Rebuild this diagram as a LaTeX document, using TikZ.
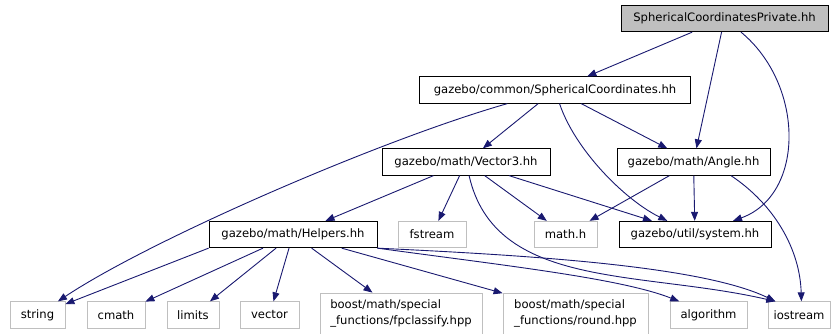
\documentclass[tikz,border=0pt]{standalone}
\usepackage{fontspec}
\setmainfont{DejaVu Sans}
\usetikzlibrary{arrows.meta}
\definecolor{edgeblue}{HTML}{191970}
\definecolor{boxgray}{HTML}{BFBFBF}

\begin{document}
\begin{tikzpicture}[x=1pt, y=-1pt,
		font=\fontsize{11.6}{16}\selectfont,
		file/.style={draw=black, line width=0.8pt, minimum height=26.5pt, inner sep=0pt, align=left},
		sysfile/.style={file, draw=boxgray},
		dep/.style={draw=edgeblue, line width=0.9pt, -{Triangle[length=9pt,width=7pt]}}]
		\useasboundingbox (0,0) rectangle (835,334);
		
		% project headers
		\node[file, fill=boxgray, minimum width=207pt] (priv) at (724.5,18.5) {SphericalCoordinatesPrivate.hh};
		\node[file, minimum width=271pt] (sph) at (555,90) {gazebo/common/SphericalCoordinates.hh};
		\node[file, minimum width=168pt] (vecthree) at (466,162) {gazebo/math/Vector3.hh};
		\node[file, minimum width=153pt] (angle) at (693.5,162) {gazebo/math/Angle.hh};
		\node[file, minimum width=168pt] (helpers) at (293,234.5) {gazebo/math/Helpers.hh};
		\node[file, minimum width=152pt] (system) at (695,234.5) {gazebo/util/system.hh};
		
		% system headers
		\node[sysfile, minimum width=68pt] (fstream) at (432,234.5) {fstream};
		\node[sysfile, minimum width=63pt] (mathh) at (565.5,234.5) {math.h};
		\foreach \n/\x/\w in {string/37.5/55, cmath/116/58, limits/193/52, vector/269.5/59, algorithm/708.5/77, iostream/799/62}{
			\node[sysfile, minimum width=\w pt] (\n) at (\x,315) {\n};
		}
		\node[sysfile, minimum width=162pt, minimum height=41pt] (fpclass) at (401,313.5) {boost/math/special\\\_functions/fpclassify.hpp};
		\node[sysfile, minimum width=145pt, minimum height=41pt] (round) at (575.5,313.5) {boost/math/special\\\_functions/round.hpp};
		
		\foreach \a/\b in {priv/sph, priv/angle, sph/vecthree, sph/angle, vecthree/helpers, vecthree/fstream, vecthree/mathh, vecthree/system, angle/mathh, angle/system, helpers/cmath, helpers/limits, helpers/vector, helpers/fpclass, helpers/round}{
			\draw[dep] (\a) -- (\b);
		}
		\draw[dep] (helpers.south west) -- (string);
		
		\draw[dep] (priv) .. controls (805,85) and (805,195) .. (system);
		\draw[dep] (sph) .. controls (380,140) and (150,240) .. (string);
		\draw[dep] (sph) .. controls (575,150) and (625,200) .. (system);
		\draw[dep] (vecthree) .. controls (495,290) and (640,270) .. (iostream.150);
		\draw[dep] (angle.-20) .. controls (775,205) and (800,250) .. (iostream.80);
		\draw[dep] (helpers.south east) .. controls (500,265) and (620,278) .. (algorithm.155);
		\draw[dep] (helpers.south east) .. controls (520,255) and (700,265) .. (iostream.150);
		\end{tikzpicture}
\end{document}
